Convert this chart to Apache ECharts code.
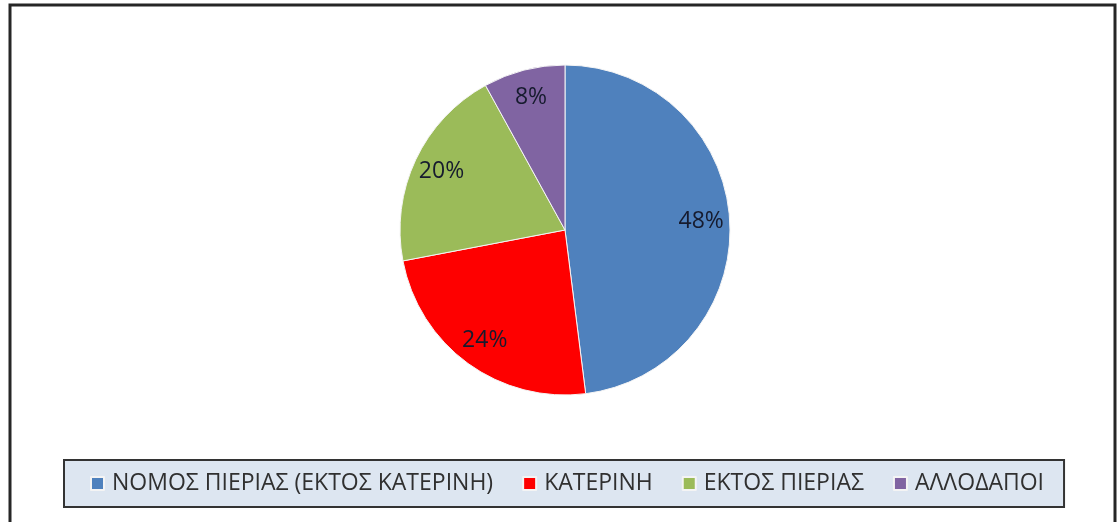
<!DOCTYPE html>
<html>
<head>
<meta charset="utf-8">
<script src="https://cdn.jsdelivr.net/npm/echarts@6/dist/echarts.min.js"></script>
<style>
  html, body { margin: 0; padding: 0; background: #fff; }
  #chart { width: 1120px; height: 522px; }
</style>
</head>
<body>
<div id="chart"></div>
<script>
'use strict';

// ---- data ----
const categories = ['ΝΟΜΟΣ ΠΙΕΡΙΑΣ (ΕΚΤΟΣ ΚΑΤΕΡΙΝΗ)', 'ΚΑΤΕΡΙΝΗ', 'ΕΚΤΟΣ ΠΙΕΡΙΑΣ', 'ΑΛΛΟΔΑΠΟΙ'];
const shares = [48, 24, 20, 8];

// ---- palette ----
const colors = ['#4f81bd', '#fe0000', '#9bbb59', '#8064a2'];
const font = "'Open Sans', 'Noto Sans', sans-serif";

const pieData = categories.map((name, i) => ({ name, value: shares[i], itemStyle: { color: colors[i] } }));

const chart = echarts.init(document.getElementById('chart'));
chart.setOption({
  animation: false,
  legend: {
    data: categories.map((name, i) => ({ name, itemStyle: { color: colors[i] } })),
    left: 64, top: 460,
    icon: 'rect', itemWidth: 13, itemHeight: 13, itemGap: 29,
    padding: [12, 20, 12, 26],
    backgroundColor: '#dde6f1', borderColor: '#333', borderWidth: 2,
    textStyle: { fontFamily: font, fontSize: 23, color: '#303030', padding: [0, 0, 0, 3] },
    selectedMode: false,
  },
  graphic: [{
    type: 'rect', silent: true,
    shape: { x: 10, y: 5, width: 1105, height: 540 },
    style: { fill: 'none', stroke: '#262626', lineWidth: 3 },
  }],
  series: [
    {
      name: 'main', type: 'pie', center: [565, 230], radius: 165,
      startAngle: 90, clockwise: true,
      itemStyle: { borderColor: '#f4f4f4', borderWidth: 1 },
      label: { show: false }, labelLine: { show: false },
      emphasis: { disabled: true },
      data: pieData,
    },
    {
      // transparent ring used only to place the percentage labels
      name: 'labels', type: 'pie', center: [565, 230], radius: [102, 165],
      startAngle: 90, clockwise: true, silent: true, legendHoverLink: false,
      itemStyle: { color: 'transparent' },
      label: { show: true, position: 'inside', formatter: p => p.value + '%',
        fontFamily: font, fontSize: 23, color: '#161b2e' },
      labelLine: { show: false },
      emphasis: { disabled: true },
      data: categories.map((name, i) => ({ name, value: shares[i] })),
    },
  ],
});
</script>
</body>
</html>
